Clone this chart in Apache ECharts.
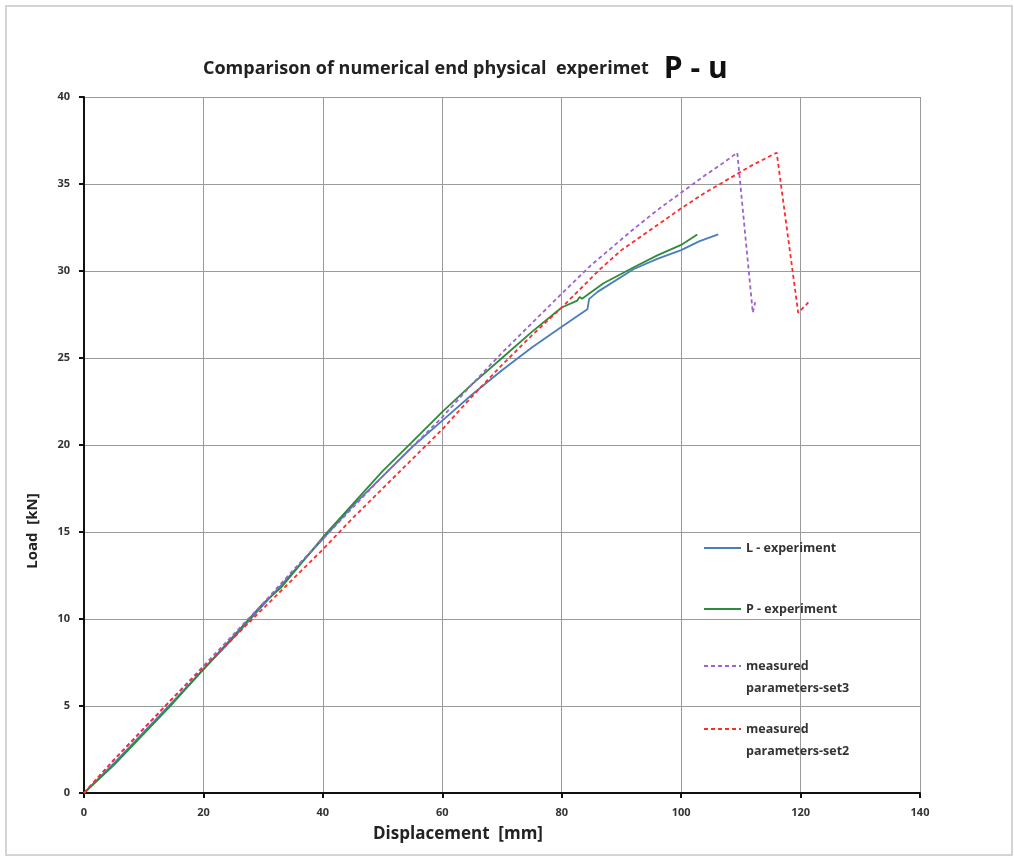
<!DOCTYPE html>
<html>
<head>
<meta charset="utf-8">
<script src="https://cdn.jsdelivr.net/npm/echarts@6/dist/echarts.min.js"></script>
<style>html,body{margin:0;padding:0;background:#fff}#c{width:1014px;height:857px}</style>
</head>
<body>
<div id="c"></div>
<script>
// ---- data (displacement [mm], load [kN]) ----
const seriesNames = ['L - experiment', 'P - experiment', 'measured parameters-set3', 'measured parameters-set2'];
const xTicks = [0, 20, 40, 60, 80, 100, 120, 140];
const yTicks = [0, 5, 10, 15, 20, 25, 30, 35, 40];
const lExperiment = [[0,0],[5,1.7],[10,3.5],[15,5.3],[20,7.1],[25,8.9],[30,10.8],[35,12.7],[40,14.6],[45,16.5],[50,18.2],[55,19.9],[60,21.4],[65,22.9],[70,24.3],[75,25.6],[80,26.8],[84.3,27.8],[84.6,28.4],[86,28.8],[92,30.1],[96,30.7],[100,31.2],[103,31.7],[106.2,32.1]];
const pExperiment = [[0,0],[5,1.6],[10,3.4],[15,5.2],[20,7.1],[25,9.0],[30,10.9],[33,11.8],[40,14.7],[45,16.6],[50,18.5],[55,20.2],[60,21.9],[65,23.5],[70,25.0],[75,26.5],[80,27.9],[82.6,28.3],[83,28.5],[83.4,28.4],[87,29.3],[92,30.2],[96,30.9],[100,31.5],[102.7,32.1]];
const measuredSet3 = [[0,0],[5,1.9],[10,3.7],[15,5.5],[20,7.3],[25,9.1],[30,10.9],[35,12.8],[40,14.6],[45,16.4],[50,18.2],[55,19.9],[60,21.6],[65,23.5],[70,25.3],[75,27.0],[80,28.7],[84.8,30.3],[92,32.4],[96,33.5],[100,34.5],[104,35.5],[107,36.2],[109.4,36.8],[112,27.6],[112.4,28.2]];
const measuredSet2 = [[0,0],[5,1.9],[10,3.7],[15,5.5],[20,7.2],[25,8.9],[30,10.6],[35,12.3],[40,14.0],[45,15.8],[50,17.5],[55,19.2],[60,20.9],[65,22.8],[70,24.6],[75,26.3],[80,27.9],[86.4,30.1],[90,31.2],[95,32.4],[100,33.6],[104,34.5],[108,35.3],[112,36.1],[116,36.8],[119.6,27.6],[121.3,28.2]];

const colors = ['#4A7EBB', '#2F8A3A', '#9B62D6', '#FF2B2B'];
const fontFam = '"Open Sans", "Liberation Sans", sans-serif';

const chart = echarts.init(document.getElementById('c'), null, {renderer: 'canvas'});

function legendFor(name, top) {
  const twoLine = name.startsWith('measured');
  return {
    show: true, orient: 'vertical', left: 703, top: top, padding: 0,
    data: [name], itemWidth: 37, itemHeight: 14, selectedMode: false,
    itemStyle: {opacity: 0},
    formatter: n => twoLine ? ' \n' + n.replace(' ', '\n') : n,
    textStyle: {fontFamily: fontFam, fontWeight: 'bold', fontSize: 12.5, color: '#333', lineHeight: twoLine ? 22 : 16}
  };
}

const mk = (name, data, color, dashed) => ({
  name, type: 'line', data, showSymbol: false, symbol: 'none', smooth: false,
  lineStyle: {color, width: 1.8, type: dashed ? [4, 3] : 'solid'},
  itemStyle: {color}, animation: false
});

chart.setOption({
  animation: false,
  backgroundColor: '#fff',
  title: {
    left: 198, top: 49,
    text: '{a|Comparison of numerical end physical  experimet}   {b|P - u}',
    textStyle: {rich: {
      a: {fontFamily: fontFam, fontWeight: 'bold', fontSize: 18, color: '#222'},
      b: {fontFamily: fontFam, fontWeight: 'bold', fontSize: 30, color: '#111'}
    }}
  },
  grid: {left: 84, right: 94, top: 97, bottom: 64},
  legend: [
    legendFor(seriesNames[0], 540),
    legendFor(seriesNames[1], 601),
    legendFor(seriesNames[2], 633),
    legendFor(seriesNames[3], 696)
  ],
  graphic: [{type: 'rect', shape: {x: 6, y: 6, width: 1006, height: 849}, style: {fill: 'none', stroke: '#d4d4d4', lineWidth: 2}, silent: true}],
  xAxis: {
    type: 'value', min: xTicks[0], max: xTicks[xTicks.length - 1], interval: 20,
    name: 'Displacement  [mm]', nameLocation: 'middle', nameGap: 33,
    nameTextStyle: {fontFamily: fontFam, fontWeight: 'bold', fontSize: 17, color: '#222', padding: [0, 88, 0, 0]},
    axisLine: {show: true, lineStyle: {color: '#111', width: 2}},
    axisTick: {show: true, length: 5, lineStyle: {color: '#111', width: 2}},
    axisLabel: {fontFamily: fontFam, fontWeight: 'bold', fontSize: 11, color: '#333', margin: 14},
    splitLine: {show: true, lineStyle: {color: '#9a9a9a', width: 1}}
  },
  yAxis: {
    type: 'value', min: yTicks[0], max: yTicks[yTicks.length - 1], interval: 5,
    name: 'Load  [kN]', nameLocation: 'middle', nameGap: 44,
    nameTextStyle: {fontFamily: fontFam, fontWeight: 'bold', fontSize: 15, color: '#222', padding: [0, 172, 0, 0]},
    axisLine: {show: true, lineStyle: {color: '#111', width: 2}},
    axisTick: {show: true, length: 5, lineStyle: {color: '#111', width: 2}},
    axisLabel: {fontFamily: fontFam, fontWeight: 'bold', fontSize: 11, color: '#333', margin: 14},
    splitLine: {show: true, lineStyle: {color: '#9a9a9a', width: 1}}
  },
  series: [
    mk(seriesNames[0], lExperiment, colors[0], false),
    mk(seriesNames[1], pExperiment, colors[1], false),
    mk(seriesNames[2], measuredSet3, colors[2], true),
    mk(seriesNames[3], measuredSet2, colors[3], true)
  ]
});
</script>
</body>
</html>
